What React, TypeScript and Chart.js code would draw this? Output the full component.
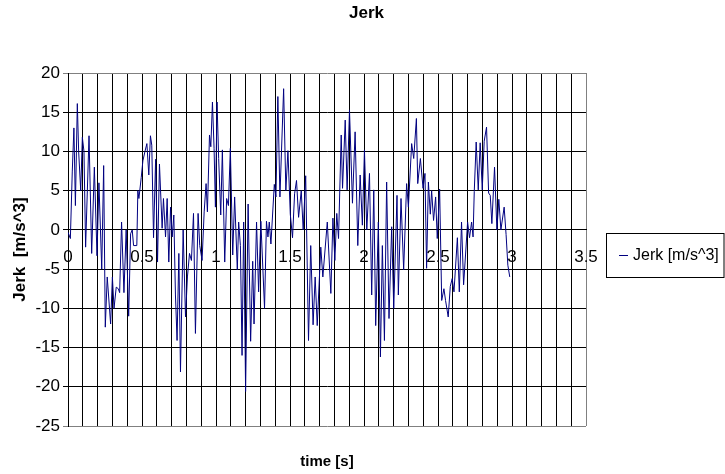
import React, { useEffect, useRef } from "react";
import { Chart, registerables } from "chart.js";

Chart.register(...registerables);

const FONT = "'Liberation Sans', Arial, sans-serif";

const chartTitle = "Jerk";
const xTitle = "time [s]";
const yTitle = "Jerk  [m/s^3]";
const seriesLabel = "Jerk [m/s^3]";

const yTicks = [20, 15, 10, 5, 0, -5, -10, -15, -20, -25];
const xLabelTicks = [0, 0.5, 1, 1.5, 2, 2.5, 3, 3.5];

const times = [
  0.000, 0.016, 0.029, 0.040, 0.050, 0.063, 0.072, 0.086, 0.097, 0.108,
  0.119, 0.142, 0.160, 0.178, 0.196, 0.209, 0.228, 0.241, 0.252, 0.265,
  0.288, 0.300, 0.311, 0.326, 0.340, 0.349, 0.362, 0.378, 0.393, 0.410,
  0.423, 0.434, 0.443, 0.465, 0.472, 0.479, 0.495, 0.506, 0.520, 0.533,
  0.546, 0.557, 0.566, 0.578, 0.592, 0.605, 0.618, 0.636, 0.645, 0.659,
  0.670, 0.681, 0.693, 0.704, 0.715, 0.726, 0.737, 0.749, 0.760, 0.778,
  0.794, 0.807, 0.821, 0.834, 0.848, 0.861, 0.879, 0.890, 0.906, 0.920,
  0.933, 0.942, 0.956, 0.965, 0.976, 0.987, 0.996, 1.007, 1.018, 1.032,
  1.043, 1.059, 1.072, 1.084, 1.097, 1.113, 1.126, 1.144, 1.153, 1.165,
  1.176, 1.187, 1.200, 1.217, 1.234, 1.248, 1.257, 1.274, 1.288, 1.303,
  1.328, 1.341, 1.351, 1.360, 1.371, 1.394, 1.405, 1.418, 1.432, 1.457,
  1.472, 1.486, 1.502, 1.517, 1.531, 1.544, 1.558, 1.576, 1.589, 1.606,
  1.625, 1.640, 1.656, 1.670, 1.684, 1.708, 1.722, 1.752, 1.776, 1.790,
  1.803, 1.816, 1.828, 1.846, 1.855, 1.873, 1.886, 1.902, 1.922, 1.940,
  1.958, 1.974, 1.989, 2.003, 2.019, 2.037, 2.052, 2.066, 2.079, 2.097,
  2.111, 2.124, 2.138, 2.153, 2.169, 2.187, 2.201, 2.223, 2.232, 2.250,
  2.268, 2.288, 2.300, 2.322, 2.336, 2.354, 2.363, 2.381, 2.399, 2.412,
  2.423, 2.435, 2.448, 2.457, 2.470, 2.484, 2.495, 2.511, 2.525, 2.540,
  2.551, 2.569, 2.583, 2.596, 2.608, 2.631, 2.644, 2.659, 2.673, 2.686,
  2.700, 2.713, 2.727, 2.737, 2.745, 2.758, 2.772, 2.785, 2.799, 2.812,
  2.828, 2.842, 2.853, 2.864, 2.882, 2.898, 2.911, 2.925, 2.947, 2.960,
  2.972, 2.985,
];

const jerk = [
  -0.3, -1.1, 7.5, 13, 3.1, 16.1, 10, 5, 11.8, 10,
  -2.2, 12, -3, 8, -3.3, 6, -5, 8.2, -12.4, -6,
  -12, -6, -10, -7.3, -7.5, -8, 1, -8, 0, -11,
  -0.5, 0, -2, -2, 5, 4, 6.7, 8.8, 10, 11,
  7, 12, 10.8, -1, 9, -4.1, 8.4, 0.2, 4, -0.9,
  4, -4.1, 2.9, -0.9, 1.9, -8.3, -14.1, -3, -18.1, 0,
  -11.1, -6, -3, -3.9, 2.1, -13.2, 2.1, -2, -3.9, 2.3,
  5.9, 2.3, 12.1, 10.6, 16.3, 10.4, 2.9, 16.3, 9.1, 1.9,
  10.2, -4.1, 4, 3.1, 10.4, -3.2, 4.2, -5.1, 1, -2,
  -16, 1, -20.6, 3.3, -14.2, -4, -12, 1, -7.9, 1.1,
  -10, 1.1, -0.9, 1, -1.8, 5.8, 4.2, 17, 4.2, 18,
  5, 10.1, 2, -1, 4.6, 6.3, 1.6, 5, 0, 6.9,
  -14.1, -2, -12.1, -6, -12.2, -2.2, -6, 1, -8.1, 1.5,
  -3.9, 2.1, -1.1, 12.1, 5.3, 14, 5.1, 15.3, 3.4, 12.5,
  -2, 7, 0.6, 10.2, 0, 7.2, -8.3, 5.1, -12.2, 1,
  -16.2, -2, -14.1, 6.1, -11.3, 0.4, -10, 4.4, -8.3, 4,
  -5.1, 5.9, 2.9, 11, 9.1, 14.2, 5.9, 9.1, 5.3, 7.2,
  -4.9, 6.1, 2, 5, 1.2, 4.2, -1.1, 5.2, -9, -7.5,
  -9, -11.1, -7.2, -6.2, -7.9, -1, -7.9, 1, -7, -3.2,
  1, -1, 1, -0.9, 4.9, 11.2, 5.1, 11.1, 5.1, 11.3,
  13.1, 4.7, 4.4, 0.8, 8, 0, 3.9, 0, 2.9, -0.6,
  -4.5, -6,
];

const legendBox = {
  id: "legendBox",
  afterDraw(chart: any) {
    const { ctx, chartArea } = chart;
    const ds = chart.data.datasets[0];
    const left = Math.round(chartArea.right + 20);
    const right = chart.width - 1;
    const cy = Math.round((chartArea.top + chartArea.bottom) / 2 + 5);
    const top = cy - 22;
    ctx.save();
    ctx.strokeStyle = "#000";
    ctx.lineWidth = 1;
    ctx.strokeRect(left + 0.5, top + 0.5, right - left - 0.5, 44);
    ctx.strokeStyle = ds.borderColor;
    ctx.beginPath();
    ctx.moveTo(left + 13, cy + 0.5);
    ctx.lineTo(left + 22, cy + 0.5);
    ctx.stroke();
    ctx.fillStyle = "#000";
    ctx.font = `16px ${FONT}`;
    ctx.textBaseline = "middle";
    ctx.textAlign = "left";
    ctx.fillText(ds.label, left + 27, cy + 1);
    ctx.restore();
  },
};

export default function App() {
  const ref = useRef<HTMLCanvasElement | null>(null);

  useEffect(() => {
    if (!ref.current) return;
    const points = times.map((t, i) => ({ x: t, y: jerk[i] }));
    const chart = new Chart(ref.current, {
      type: "line",
      data: {
        datasets: [
          {
            label: seriesLabel,
            data: points,
            borderColor: "#000080",
            borderWidth: 1,
            pointRadius: 0,
            tension: 0,
            fill: false,
          },
        ],
      },
      options: {
        animation: false,
        responsive: true,
        maintainAspectRatio: false,
        devicePixelRatio: 1,
        layout: { padding: { left: 8, right: 0, top: 0, bottom: 0 } },
        plugins: {
          legend: { display: false },
          tooltip: { enabled: false },
          title: {
            display: true,
            text: chartTitle,
            color: "#000",
            font: { family: FONT, size: 17, weight: "bold" },
            padding: { top: 3, bottom: 49.6 },
          },
        },
        scales: {
          x: {
            type: "linear",
            min: 0,
            max: 3.5,
            position: { y: 0 } as any,
            ticks: {
              stepSize: 0.1,
              autoSkip: false,
              maxTicksLimit: 1000,
              maxRotation: 0,
              minRotation: 0,
              padding: 17,
              color: "#000",
              font: { family: FONT, size: 17 },
              callback: (v: any) => {
                const r = Math.round(Number(v) * 10) / 10;
                return xLabelTicks.includes(r) ? String(r) : "";
              },
            },
            grid: {
              drawTicks: false,
              lineWidth: 1,
              color: (c: any) =>
                c.tick && Math.abs(c.tick.value - 3.5) < 1e-6 ? "#808080" : "#000",
            },
            border: { display: true, color: "#000" },
          },
          x2: {
            type: "linear",
            axis: "x",
            position: "bottom",
            display: true,
            ticks: { display: false },
            grid: { display: false, drawTicks: false },
            border: { display: false },
            title: {
              display: true,
              text: xTitle,
              color: "#000",
              font: { family: FONT, size: 15, weight: "bold" },
              padding: { top: 0, bottom: 3 },
            },
            afterFit: (s: any) => {
              s.height = 48;
            },
          },
          y: {
            type: "linear",
            min: -25,
            max: 20,
            position: "left",
            afterBuildTicks: (s: any) => {
              s.ticks = yTicks.map((v) => ({ value: v }));
            },
            ticks: {
              stepSize: 5,
              padding: 3,
              color: "#000",
              font: { family: FONT, size: 17 },
            },
            grid: {
              lineWidth: 1,
              tickLength: 5,
              color: (c: any) =>
                c.tick && (c.tick.value === 20 || c.tick.value === -25) ? "#808080" : "#000",
            },
            border: { display: true, color: "#000" },
            title: {
              display: true,
              text: yTitle,
              color: "#000",
              font: { family: FONT, size: 17, weight: "bold" },
              padding: { top: 2, bottom: 0 },
            },
            afterFit: (s: any) => {
              s.width = 60;
            },
          },
          y2: {
            type: "linear",
            axis: "y",
            position: "right",
            display: true,
            ticks: { display: false },
            grid: { display: false, drawTicks: false },
            border: { display: false },
            afterFit: (s: any) => {
              s.width = 139;
            },
          },
        },
      },
      plugins: [legendBox],
    });
    return () => chart.destroy();
  }, []);

  return (
    <div style={{ position: "absolute", left: 0, top: 0, width: 725, height: 474, background: "#fff" }}>
      <canvas ref={ref} />
    </div>
  );
}
